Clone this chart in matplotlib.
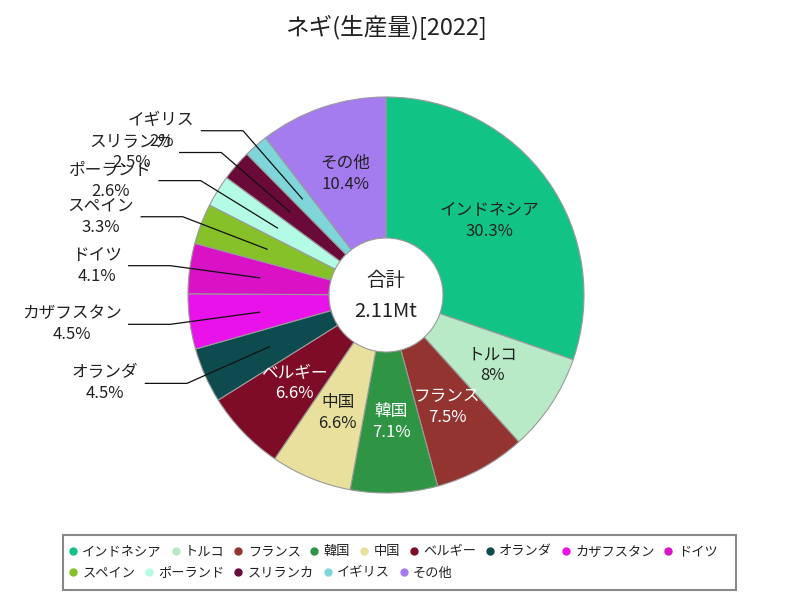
import numpy as np
import matplotlib
matplotlib.use("Agg")
import matplotlib.pyplot as plt
from matplotlib.lines import Line2D
from matplotlib.patches import Rectangle

plt.rcParams['font.family'] = ['Noto Sans CJK JP', 'DejaVu Sans']

# ---- data ----
title = "ネギ(生産量)[2022]"
countries = ["インドネシア", "トルコ", "フランス", "韓国", "中国", "ベルギー", "オランダ",
             "カザフスタン", "ドイツ", "スペイン", "ポーランド", "スリランカ", "イギリス", "その他"]
shares = [30.3, 8, 7.5, 7.1, 6.6, 6.6, 4.5, 4.5, 4.1, 3.3, 2.6, 2.5, 2, 10.4]
colors = ["#12c386", "#b9eac7", "#933430", "#2f9444", "#e8e09c", "#7e0c26", "#0d4b4e",
          "#ea12ea", "#d912c6", "#86c12a", "#b4fbe6", "#690a38", "#7fd6da", "#a57cef"]
total_label = "合計"
total_value = "2.11Mt"

W, H = 800, 600
CX, CY, R = 386, 295, 198
HOLE = 0.288

fig = plt.figure(figsize=(8, 6), dpi=100)
ax = fig.add_axes([0, 0, 1, 1])

wedges, _ = ax.pie(shares, colors=colors, startangle=90, counterclock=False, radius=1,
                   wedgeprops=dict(width=1 - HOLE, edgecolor='#9a9a9a', linewidth=0.8))
ax.set_aspect('auto')
ax.set_xlim(-CX / R, (W - CX) / R)
ax.set_ylim(-(H - CY) / R, CY / R)
ax.axis('off')

total = sum(shares)
cum = 0.0
mid_r = (1 + HOLE) / 2
for name, v, c in zip(countries, shares, colors):
    frac = (cum + v / 2) / total
    cum += v
    ang = np.deg2rad(90 - 360 * frac)
    ca, sa = np.cos(ang), np.sin(ang)
    label = f"{name}\n{v:g}%"
    rgb = matplotlib.colors.to_rgb(c)
    lum = 0.299 * rgb[0] + 0.587 * rgb[1] + 0.114 * rgb[2]
    tc = 'white' if lum < 0.45 else '#222222'
    if v >= 5:
        ax.text(mid_r * ca, mid_r * sa, label, ha='center', va='center',
                multialignment='center', fontsize=12, color=tc, linespacing=1.3)
    else:
        x0, y0 = mid_r * ca, mid_r * sa
        x1, y1 = 1.1 * ca, 1.1 * sa
        x2 = x1 - 0.21
        ax.plot([x0, x1, x2], [y0, y1, y1], color='#111111', lw=0.9, zorder=5)
        ax.text(x2 - 0.035, y1, label, ha='right', va='center',
                multialignment='center', fontsize=12, color='#222222',
                linespacing=1.3, zorder=6)

ax.text(0, 0.075, total_label, ha='center', va='center', fontsize=14, color='#222222')
ax.text(0, -0.085, total_value, ha='center', va='center', fontsize=14.5, color='#222222')

fig.text(CX / W, 1 - 27 / H, title, ha='center', va='center', fontsize=17, color='#222222')

# ---- legend (two flowing rows) ----
handles = [Line2D([], [], marker='o', linestyle='none', markersize=5,
                  markerfacecolor=c, markeredgecolor=c) for c in colors]
rows = [(0, 9, 552), (9, 14, 573)]
for a, b, yc in rows:
    leg = fig.legend(handles[a:b], countries[a:b], ncol=b - a, loc='center left',
                     bbox_to_anchor=(69 / W, 1 - yc / H), bbox_transform=fig.transFigure,
                     frameon=False, fontsize=9.5, handlelength=0.6, handletextpad=0.4,
                     columnspacing=0.75, borderpad=0, borderaxespad=0)
    for t in leg.get_texts():
        t.set_color('#222222')

fig.patches.append(Rectangle((63 / W, 1 - 590 / H), (736 - 63) / W, (590 - 535) / H,
                             transform=fig.transFigure, fill=False,
                             edgecolor='#888888', linewidth=1.5))

fig.savefig("out.png", dpi=100)
